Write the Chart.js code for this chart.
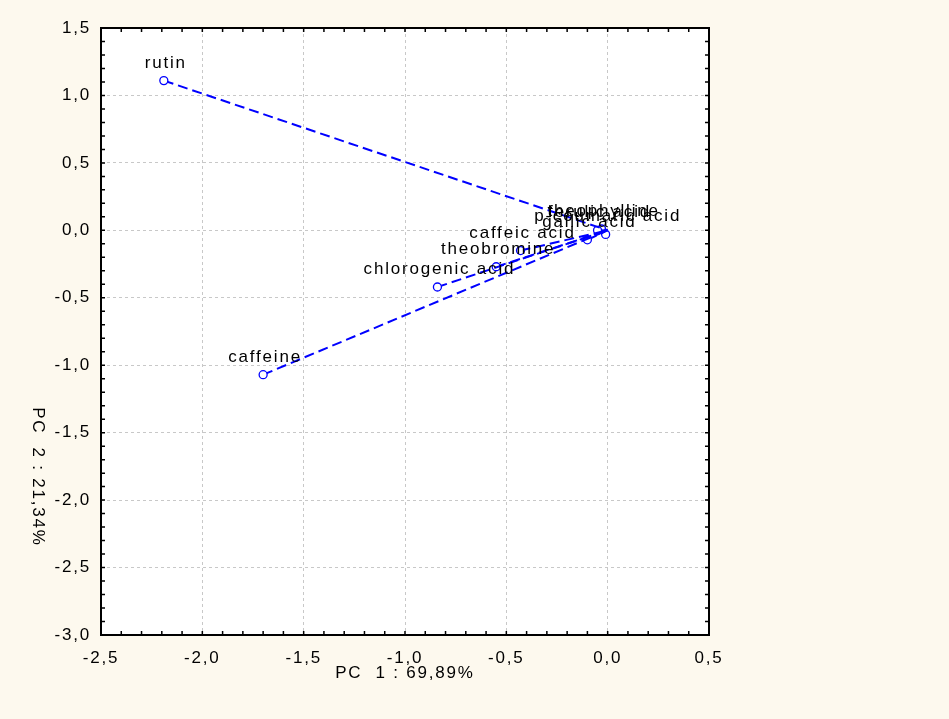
<!DOCTYPE html>
<html>
<head>
<meta charset="utf-8">
<script src="https://cdn.jsdelivr.net/npm/chart.js@4"></script>
<style>
  body { margin: 0; background: #fdf9ee; }
  canvas { display: block; }
</style>
</head>
<body>
<canvas id="pcaChart" width="949" height="719"></canvas>
<script>
// loadings on PC1 / PC2
const names = ['rutin', 'caffeine', 'chlorogenic acid', 'theobromine', 'caffeic acid',
    'gallic acid', 'ferulic acid', 'theophylline', 'p-coumaric acid'];
const pc1 = [-2.19, -1.70, -0.84, -0.55, -0.43, -0.10, -0.05, -0.03, -0.01];
const pc2 = [1.11, -1.07, -0.42, -0.27, -0.15, -0.07, 0.00, 0.01, -0.03];
const xTitle = 'PC  1 : 69,89%';
const yTitle = 'PC  2 : 21,34%';

const FAMILY = '"Liberation Sans", Arial, sans-serif';
const FONT = '17px ' + FAMILY;
const SPACING = '1.8px';

window.onload = function () {
    const ctx = document.getElementById('pcaChart');

    // one dataset per variable: point -> origin
    const datasets = names.map(function (n, i) {
        return {
            label: n,
            data: [{ x: pc1[i], y: pc2[i] }, { x: 0, y: 0 }],
            showLine: true,
            borderColor: '#0000ff',
            borderWidth: 2,
            borderDash: [10, 5],
            pointRadius: [4, 0],
            pointBorderWidth: 1.3,
            pointBorderColor: '#0000ff',
            pointBackgroundColor: '#ffffff',
            pointHoverRadius: 0
        };
    });

    const comma = function (v) {
        return Number(v).toFixed(1).replace('.', ',');
    };

    const deco = {
        id: 'deco',
        beforeLayout: function (chart) {
            chart.ctx.letterSpacing = SPACING;
        },
        beforeDraw: function (chart) {
            const c = chart.ctx;
            const a = chart.chartArea;
            c.save();
            c.fillStyle = '#fdf9ee';
            c.fillRect(0, 0, chart.width, chart.height);
            c.fillStyle = '#ffffff';
            c.fillRect(a.left, a.top, a.right - a.left, a.bottom - a.top);
            c.restore();
            c.letterSpacing = SPACING;
        },
        afterDatasetsDraw: function (chart) {
            const c = chart.ctx;
            const xs = chart.scales.x;
            const ys = chart.scales.y;
            c.save();
            c.letterSpacing = SPACING;
            c.font = FONT;
            c.fillStyle = '#000';
            c.textAlign = 'center';
            c.textBaseline = 'alphabetic';
            names.forEach(function (n, i) {
                c.fillText(n, xs.getPixelForValue(pc1[i]) + 2, ys.getPixelForValue(pc2[i]) - 13);
            });
            c.restore();
        },
        afterDraw: function (chart) {
            const c = chart.ctx;
            const a = chart.chartArea;
            const xs = chart.scales.x;
            const ys = chart.scales.y;
            c.save();
            // minor ticks
            c.strokeStyle = '#000';
            c.lineWidth = 1.5;
            c.beginPath();
            for (let k = -25; k <= 5; k++) {
                const px = xs.getPixelForValue(k / 10);
                c.moveTo(px, a.top); c.lineTo(px, a.top + 4);
                c.moveTo(px, a.bottom); c.lineTo(px, a.bottom - 4);
            }
            for (let k = -30; k <= 15; k++) {
                const py = ys.getPixelForValue(k / 10);
                c.moveTo(a.left, py); c.lineTo(a.left + 4, py);
                c.moveTo(a.right, py); c.lineTo(a.right - 4, py);
            }
            c.stroke();
            // frame
            c.lineWidth = 2;
            c.strokeRect(a.left, a.top, a.right - a.left, a.bottom - a.top);
            // axis titles
            c.letterSpacing = SPACING;
            c.font = FONT;
            c.fillStyle = '#000';
            c.textAlign = 'center';
            c.textBaseline = 'middle';
            c.fillText(xTitle, (a.left + a.right) / 2, 673);
            c.translate(38, 477);
            c.rotate(Math.PI / 2);
            c.fillText(yTitle, 0, 0);
            c.restore();
        }
    };

    new Chart(ctx, {
        type: 'scatter',
        data: { datasets: datasets },
        options: {
            responsive: false,
            animation: false,
            events: [],
            layout: {
                padding: { top: 28, right: 240, bottom: 0, left: 0 }
            },
            plugins: {
                legend: { display: false },
                tooltip: { enabled: false }
            },
            scales: {
                x: {
                    min: -2.5,
                    max: 0.5,
                    afterFit: function (s) { s.height = 84; },
                    ticks: {
                        stepSize: 0.5,
                        padding: 13,
                        color: '#000',
                        font: { family: FAMILY, size: 17 },
                        callback: comma
                    },
                    grid: { color: '#c8c8c8', drawTicks: false },
                    border: { display: false, dash: [3, 3] }
                },
                y: {
                    min: -3.0,
                    max: 1.5,
                    afterFit: function (s) { s.width = 101; },
                    ticks: {
                        stepSize: 0.5,
                        padding: 10,
                        color: '#000',
                        font: { family: FAMILY, size: 17 },
                        callback: comma
                    },
                    grid: { color: '#c8c8c8', drawTicks: false },
                    border: { display: false, dash: [3, 3] }
                }
            }
        },
        plugins: [deco]
    });
};
</script>
</body>
</html>
